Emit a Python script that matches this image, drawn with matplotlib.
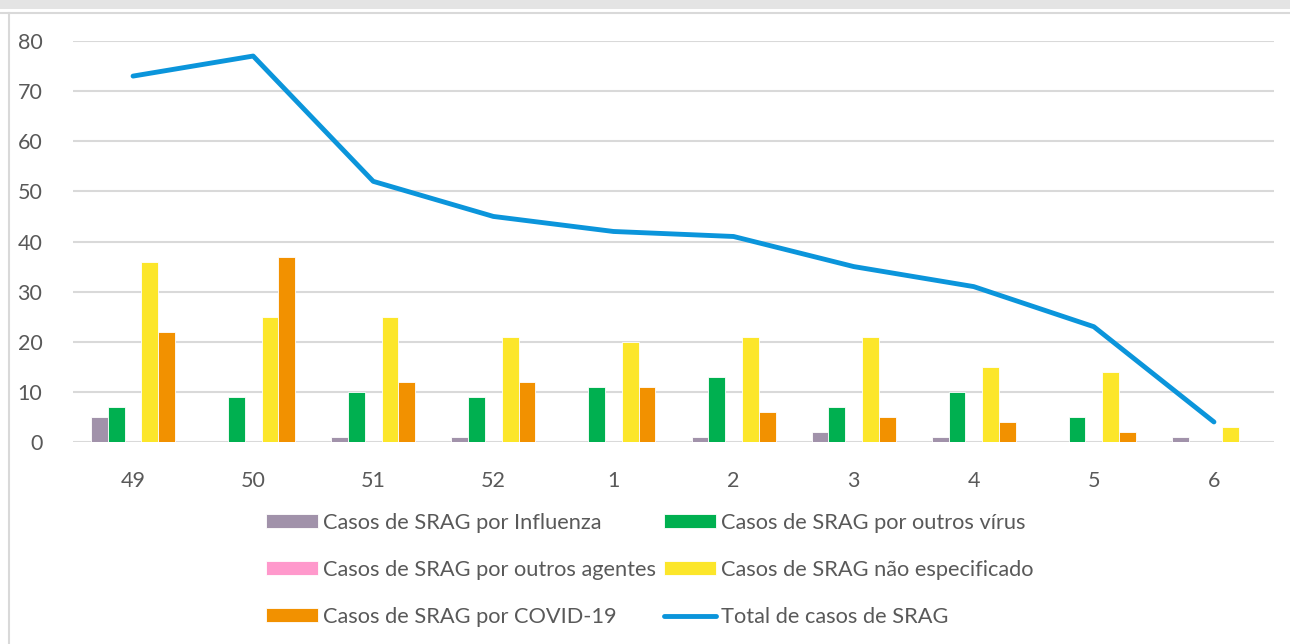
import numpy as np
import matplotlib.pyplot as plt
from matplotlib.patches import Rectangle
from matplotlib.lines import Line2D

plt.rcParams['font.family'] = ['Lato', 'DejaVu Sans']

semanas = ['49', '50', '51', '52', '1', '2', '3', '4', '5', '6']
influenza = [5, 0, 1, 1, 0, 1, 2, 1, 0, 1]
outros_virus = [7, 9, 10, 9, 11, 13, 7, 10, 5, 0]
outros_agentes = [0, 0, 0, 0, 0, 0, 0, 0, 0, 0]
nao_especificado = [36, 25, 25, 21, 20, 21, 21, 15, 14, 3]
covid = [22, 37, 12, 12, 11, 6, 5, 4, 2, 0]
total = [73, 77, 52, 45, 42, 41, 35, 31, 23, 4]

series = [
    ('Casos de SRAG por Influenza', influenza, '#a192aa'),
    ('Casos de SRAG por outros vírus', outros_virus, '#00b050'),
    ('Casos de SRAG por outros agentes', outros_agentes, '#ff99cc'),
    ('Casos de SRAG não especificado', nao_especificado, '#fce62a'),
    ('Casos de SRAG por COVID-19', covid, '#f29100'),
]
cor_texto = '#595959'

fig = plt.figure(figsize=(12.9, 6.44), dpi=100)
# moldura do gráfico
fig.patches.append(Rectangle((0, 1 - 9 / 644), 1, 9 / 644, transform=fig.transFigure,
                             facecolor='#e4e4e4', edgecolor='none'))
fig.lines.append(Line2D([0, 1], [1 - 12.5 / 644] * 2, transform=fig.transFigure,
                        color='#d9d9d9', lw=1.5))
fig.lines.append(Line2D([8.5 / 1290] * 2, [0, 1 - 12.5 / 644], transform=fig.transFigure,
                        color='#d9d9d9', lw=1.5))

ax = fig.add_axes([73 / 1290, 1 - 442 / 644, 1201 / 1290, 401 / 644])
x = np.arange(len(semanas))
w = 0.14
handles = {}
for i, (nome, valores, cor) in enumerate(series):
    b = ax.bar(x + (i - 2) * w, valores, w, color=cor, edgecolor='white', linewidth=0.6,
               label=nome, zorder=3)
    handles[nome] = b
linha, = ax.plot(x, total, color='#0b95db', lw=3.5, solid_capstyle='round',
                 solid_joinstyle='round', label='Total de casos de SRAG', zorder=4)

ax.set_xlim(-0.5, len(semanas) - 0.5)
ax.set_ylim(0, 80)
ax.set_yticks(range(0, 81, 10))
ax.set_xticks(x)
ax.set_xticklabels(semanas)
ax.grid(axis='y', color='#d9d9d9', lw=1.5, zorder=0)
for s in ax.spines.values():
    s.set_visible(False)
ax.tick_params(axis='both', length=0, labelsize=15.5, labelcolor=cor_texto)
ax.tick_params(axis='x', pad=21)
ax.tick_params(axis='y', pad=22)

# ordem por coluna para que a legenda fique em linhas como no original
ordem = ['Casos de SRAG por Influenza', 'Casos de SRAG por outros agentes',
         'Casos de SRAG por COVID-19', 'Casos de SRAG por outros vírus',
         'Casos de SRAG não especificado']
hs = [handles[n] for n in ordem] + [linha]
ls = ordem + ['Total de casos de SRAG']
leg = fig.legend(hs, ls, loc='upper left', bbox_to_anchor=(266 / 1290, 1 - 513 / 644),
                 ncol=2, frameon=False, fontsize=15.7, handlelength=2.4, handleheight=0.6,
                 handletextpad=0.22, columnspacing=0.35, labelspacing=1.24, borderpad=0,
                 borderaxespad=0)
for t in leg.get_texts():
    t.set_color(cor_texto)

fig.savefig('out.png', dpi=100)
